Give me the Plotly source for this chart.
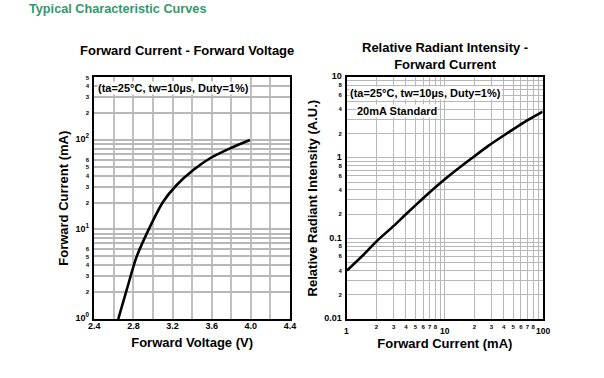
import plotly.graph_objects as go
import numpy as np

# ---- data ----
vf_volt = [2.645, 2.731, 2.833, 2.969, 3.105, 3.242, 3.412, 3.583, 3.787, 3.99]
vf_curr = [1.0, 2.11, 4.97, 10.7, 20.5, 31.4, 46.2, 62.5, 80.7, 100.0]

ri_curr = [1, 1.5, 2, 3, 4, 6, 8.93, 13, 18.8, 28, 43, 65, 100]
ri_int = [0.04, 0.064, 0.092, 0.143, 0.2, 0.315, 0.483, 0.70, 0.987, 1.42, 2.01, 2.78, 3.74]

left_x_grid = [2.4, 2.6, 2.8, 3.0, 3.2, 3.4, 3.6, 3.8, 4.0, 4.2, 4.4]
left_x_labels = ["2.4", "", "2.8", "", "3.2", "", "3.6", "", "4.0", "", "4.4"]

left_y_grid = [1, 2, 3, 4, 5, 6, 7, 8, 9, 10, 20, 30, 40, 50, 60, 70, 80, 90, 100, 200, 300, 400, 500]
left_y_labels = ["10<sup>0</sup>", "2", "3", "4", "5", "6", "", "", "",
                 "10<sup>1</sup>", "2", "3", "4", "5", "6", "", "", "",
                 "10<sup>2</sup>", "2", "3", "4", "5"]

right_x_grid = [1, 2, 3, 4, 5, 6, 7, 8, 9, 10, 20, 30, 40, 50, 60, 70, 80, 90, 100]
right_x_labels = ["", "2", "3", "4", "5", "6", "7", "8", "",
                  "", "2", "3", "4", "5", "6", "7", "8", "", ""]
right_x_major = [1, 10, 100]
right_x_major_labels = ["1", "10", "100"]

right_y_grid = [0.01, 0.02, 0.03, 0.04, 0.05, 0.06, 0.07, 0.08, 0.09,
                0.1, 0.2, 0.3, 0.4, 0.5, 0.6, 0.7, 0.8, 0.9,
                1, 2, 3, 4, 5, 6, 7, 8, 9, 10]
right_y_labels = ["0.01", "2", "", "4", "", "6", "", "8", "",
                  "0.1", "2", "", "4", "", "6", "", "8", "",
                  "1", "2", "", "4", "", "6", "", "8", "", "10"]

BIG = {"10<sup>0</sup>", "10<sup>1</sup>", "10<sup>2</sup>", "2.4", "2.8", "3.2", "3.6", "4.0", "4.4",
       "1", "10", "100", "0.01", "0.1"}


def fmt(labels):
    return ["<span style='font-size:9px'>" + t + "</span>" if t in BIG else t for t in labels]


FONT = "Liberation Sans, Arial, sans-serif"

fig = go.Figure()
fig.add_trace(go.Scatter(x=vf_volt, y=vf_curr, mode="lines",
                         line=dict(color="black", width=2.6, shape="spline", smoothing=0.8),
                         xaxis="x", yaxis="y", showlegend=False, hoverinfo="skip"))
fig.add_trace(go.Scatter(x=ri_curr, y=ri_int, mode="lines",
                         line=dict(color="black", width=2.6, shape="spline", smoothing=0.6),
                         xaxis="x2", yaxis="y2", showlegend=False, hoverinfo="skip"))

axis_common = dict(showline=True, linecolor="black", linewidth=2, mirror=True, ticks="",
                   tickfont=dict(family=FONT, size=6, color="black", weight="bold"),
                   zeroline=False, automargin=False, tickangle=0)

fig.update_layout(
    width=604, height=378,
    margin=dict(l=0, r=0, t=0, b=0),
    paper_bgcolor="white", plot_bgcolor="white",
    font=dict(family=FONT, color="black"),
    xaxis=dict(domain=[0.1561, 0.4801], range=[2.4, 4.4], anchor="y",
               tickmode="array", tickvals=left_x_grid, ticktext=fmt(left_x_labels),
               gridcolor="#c0c0c0", gridwidth=2.2, ticklabelstandoff=1,
               title=dict(text="<b>Forward Voltage (V)</b>", font=dict(size=13), standoff=8),
               **axis_common),
    yaxis=dict(domain=[0.1561, 0.7952], type="log", range=[0, np.log10(500)], anchor="x",
               tickmode="array", tickvals=left_y_grid, ticktext=fmt(left_y_labels),
               gridcolor="#b8b8b8", gridwidth=1.6, ticklabelstandoff=2,
               title=dict(text="<b>Forward Current (mA)</b>", font=dict(size=13), standoff=4),
               **axis_common),
    xaxis2=dict(domain=[0.5745, 0.8985], type="log", range=[0, 2], anchor="y2",
                tickmode="array", tickvals=right_x_grid, ticktext=right_x_labels,
                gridcolor="#b8b8b8", gridwidth=1.3, ticklabelstandoff=1,
                title=dict(text="<b>Forward Current (mA)</b>", font=dict(size=13), standoff=10),
                **axis_common),
    yaxis2=dict(domain=[0.1561, 0.7955], type="log", range=[-2, 1], anchor="x2",
                tickmode="array", tickvals=right_y_grid, ticktext=fmt(right_y_labels),
                gridcolor="#b8b8b8", gridwidth=1.3, ticklabelstandoff=2,
                title=dict(text="<b>Relative Radiant Intensity (A.U.)</b>", font=dict(size=13), standoff=4),
                **axis_common),
)

annots = [
    dict(text="<b>Typical Characteristic Curves</b>", x=27 / 604, y=1 - 0 / 378, xref="paper", yref="paper",
         xanchor="left", yanchor="top", showarrow=False, font=dict(size=12.7, color="#2f9a6c")),
    dict(text="<b>Forward Current - Forward Voltage</b>", x=187 / 604, y=1 - 51 / 378, xref="paper", yref="paper",
         xanchor="center", yanchor="middle", showarrow=False, font=dict(size=13)),
    dict(text="<b>Relative Radiant Intensity -<br>Forward Current</b>", x=445 / 604, y=1 - 56 / 378,
         xref="paper", yref="paper", xanchor="center", yanchor="middle", showarrow=False, font=dict(size=13)),
    dict(text="<b>(ta=25°C, tw=10µs, Duty=1%)</b>", x=97 / 604, y=1 - 88 / 378, xref="paper", yref="paper",
         xanchor="left", yanchor="middle", showarrow=False, font=dict(size=11), bgcolor="white", borderpad=0),
    dict(text="<b>(ta=25°C, tw=10µs, Duty=1%)</b>", x=349 / 604, y=1 - 93 / 378, xref="paper", yref="paper",
         xanchor="left", yanchor="middle", showarrow=False, font=dict(size=11), bgcolor="white", borderpad=0),
    dict(text="<b>20mA Standard</b>", x=356 / 604, y=1 - 111 / 378, xref="paper", yref="paper",
         xanchor="left", yanchor="middle", showarrow=False, font=dict(size=11), bgcolor="white", borderpad=0),
]
# major x tick labels of the right chart, placed through the x2 axis scale
for v, t in zip(right_x_major, right_x_major_labels):
    annots.append(dict(text="<b>" + t + "</b>", x=np.log10(v), xref="x2", y=0, yref="y2 domain",
                       xanchor="center", yanchor="top", yshift=-5, showarrow=False,
                       font=dict(size=8.5, family=FONT, color="black")))
fig.update_layout(annotations=annots)

fig.write_html("out.html", config={"displayModeBar": False},
               post_script="document.body.style.margin='0';document.body.style.padding='0';")
